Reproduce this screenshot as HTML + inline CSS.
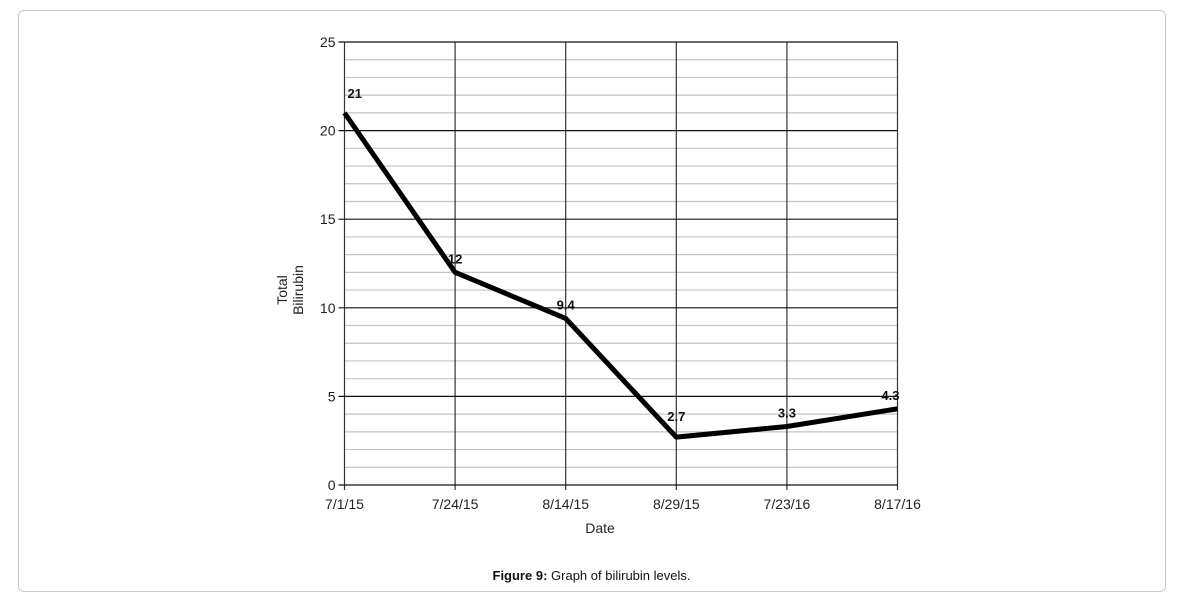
<!DOCTYPE html>
<html><head><meta charset="utf-8"><style>
body{margin:0;background:#fff;font-family:"Liberation Sans",Arial,sans-serif;}
#card{position:absolute;left:18px;top:10px;width:1148px;height:582px;border:1px solid #c8c8c8;border-radius:6px;box-sizing:border-box;}
#cap{position:absolute;left:0;top:568px;width:1183px;text-align:center;font-size:13px;color:#111;}
</style></head><body>
<div id="card"></div>
<svg id="chart" width="1183" height="609" style="position:absolute;left:0;top:0" font-family="Liberation Sans, Arial, sans-serif"></svg>
<div id="cap"><b>Figure 9:</b> Graph of bilirubin levels.</div>
<script>
const categories=["7/1/15","7/24/15","8/14/15","8/29/15","7/23/16","8/17/16"];
const values=[21,12,9.4,2.7,3.3,4.3];
const valueLabels=["21","12","9.4","2.7","3.3","4.3"];
const yTicks=[0,5,10,15,20,25];
const svg=document.getElementById('chart');const NS='http://www.w3.org/2000/svg';
const x0=344.5,x1=897.5,yTop=42,yBot=485,yMax=25;
const xs=i=>x0+i*(x1-x0)/(categories.length-1);
const ys=v=>yBot-v*(yBot-yTop)/yMax;
function mk(t,a,txt){const e=document.createElementNS(NS,t);for(const k in a)e.setAttribute(k,a[k]);if(txt!=null)e.textContent=txt;svg.appendChild(e);return e;}
for(let v=1;v<yMax;v++){if(v%5===0)continue;
const l=mk('line',{x1:x0,x2:x1,y1:ys(v),y2:ys(v),stroke:'#c4c4c4','stroke-width':1.2});

}
categories.forEach((c,i)=>{
const l=mk('line',{x1:xs(i),x2:xs(i),y1:yTop,y2:yBot+5,stroke:'#333','stroke-width':1.2});


const t=mk('text',{x:xs(i),y:yBot+24,'text-anchor':'middle','font-size':14,fill:'#222'},c);

});
yTicks.forEach(v=>{
const l=mk('line',{x1:x0-6,x2:x1,y1:ys(v),y2:ys(v),stroke:'#111','stroke-width':1.2});


const t=mk('text',{x:x0-9,y:ys(v)+5,'text-anchor':'end','font-size':14,fill:'#222'},v);

});
const p=mk('polyline',{points:values.map((v,i)=>xs(i)+','+ys(v)).join(' '),fill:'none',stroke:'#000','stroke-width':5,'stroke-linejoin':'round'});


values.forEach((v,i)=>{
const anchor=i===categories.length-1?'end':(i===0?'start':'middle');
const dx=i===0?3:(i===categories.length-1?2:0);
const off=i===0?15:(i===3?16:9);
const t=mk('text',{x:xs(i)+dx,y:ys(v)-off,'text-anchor':anchor,'font-size':13,'font-weight':'bold',fill:'#111'},valueLabels[i]);

});
const xt=mk('text',{x:600,y:533,'text-anchor':'middle','font-size':14,fill:'#222'},'Date');


const yt=mk('text',{transform:'translate(287,290) rotate(-90)','text-anchor':'middle','font-size':14,fill:'#222'});


const s1=document.createElementNS(NS,'tspan');s1.setAttribute('x',0);s1.setAttribute('dy',0);s1.textContent='Total';yt.appendChild(s1);
const s2=document.createElementNS(NS,'tspan');s2.setAttribute('x',0);s2.setAttribute('dy',16);s2.textContent='Bilirubin';yt.appendChild(s2);
</script>
</body></html>
